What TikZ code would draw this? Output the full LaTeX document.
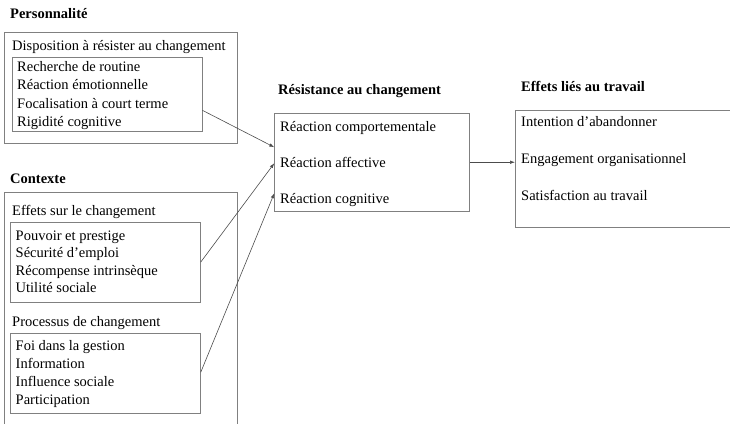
\documentclass[tikz,border=0pt]{standalone}
\usepackage{fontspec}
\setmainfont{Liberation Serif}
\usetikzlibrary{arrows.meta,positioning}

\begin{document}
\begin{tikzpicture}[x=1pt,y=-1pt,
        box/.style={draw=black!50,line width=0.75pt,inner sep=0pt,
            anchor=north west},
        txt/.style={anchor=base west,inner sep=0pt,
            font=\fontsize{14.5}{17}\selectfont},
        title/.style={txt,font=\fontsize{14.5}{17}\selectfont\bfseries},
        link/.style={draw=black!70,line width=0.6pt,
            -{Latex[length=5pt,width=3.5pt]}}]
\useasboundingbox (0,0) rectangle (730,423);
\clip (0,0) rectangle (730,423);

% Personnalite
\node[title] (perso) at (10,18.3) {Personnalité};
\node[box,minimum width=233.3pt,minimum height=111pt] (disp) at (4,31.7) {};
\node[txt] (displbl) at (12,50.7) {Disposition à résister au changement};
\node[box,minimum width=189.5pt,minimum height=73.7pt] (rou) at (12.2,57.3) {};
\foreach \t [count=\i from 0] in {Recherche de routine,Réaction émotionnelle,
        Focalisation à court terme,Rigidité cognitive}
    \node[txt] (rou\i) at (17,71.3+18.5*\i) {\t};

% Contexte
\node[title] (ctx) at (10,183.3) {Contexte};
\node[box,minimum width=233.3pt,minimum height=250pt] (ctxbox) at (4,191.7) {};
\node[txt] (efflbl) at (12,215) {Effets sur le changement};
\node[box,minimum width=190pt,minimum height=80pt] (eff) at (10,221.7) {};
\foreach \t [count=\i from 0] in {Pouvoir et prestige,Sécurité d’emploi,
        Récompense intrinsèque,Utilité sociale}
    \node[txt] (eff\i) at (15.5,240+17.6*\i) {\t};
\node[txt] (proclbl) at (12,326.7) {Processus de changement};
\node[box,minimum width=190pt,minimum height=79.7pt] (proc) at (10,333) {};
\foreach \t [count=\i from 0] in {Foi dans la gestion,Information,
        Influence sociale,Participation}
    \node[txt] (proc\i) at (15.5,350.7+17.8*\i) {\t};

% Resistance
\node[title] (reslbl) at (278,94) {Résistance au changement};
\node[box,minimum width=195pt,minimum height=98.3pt] (res) at (274.3,112.7) {};
\foreach \t [count=\i from 0] in {Réaction comportementale,Réaction affective,
        Réaction cognitive}
    \node[txt] (res\i) at (280,131+36.2*\i) {\t};

% Effets au travail
\node[title] (tralbl) at (521,91.7) {Effets liés au travail};
\node[box,minimum width=240pt,minimum height=116.7pt] (tra) at (515,110) {};
\foreach \t [count=\i from 0] in {Intention d’abandonner,Engagement organisationnel,
        Satisfaction au travail}
    \node[txt] (tra\i) at (521,126.7+36.7*\i) {\t};

% liens
\draw[link] ([yshift=-15.8pt]rou.east) -- ([yshift=15pt]res.west);
\draw[link] (eff.east) -- ([yshift=-1pt]res.west);
\draw[link] ([yshift=1pt]proc.east) -- ([yshift=-31pt]res.west);
\draw[link] (res.east) -- (res.east -| tra.west);
\end{tikzpicture}
\end{document}
